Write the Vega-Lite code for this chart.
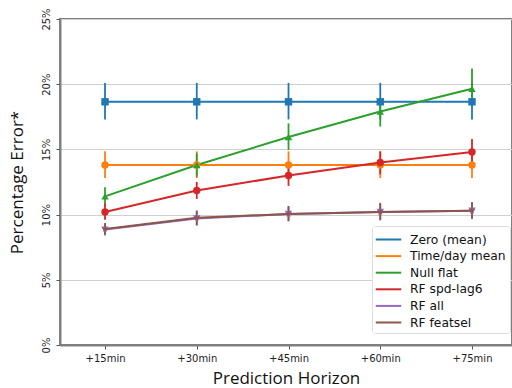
{
  "$schema": "https://vega.github.io/schema/vega-lite/v6.json",
  "autosize": {"type": "none"},
  "padding": {"left": 60, "top": 19, "right": 0, "bottom": 43},
  "width": 452,
  "height": 326,
  "background": "white",
  "config": {
    "view": {"stroke": "#808080", "strokeWidth": 2},
    "axis": {"domainColor": "#808080", "domainWidth": 2, "tickColor": "#555555", "gridColor": "#d0d0d0", "gridWidth": 1.2, "labelFont": "DejaVu Sans", "labelFontSize": 10, "labelColor": "#222222", "titleFont": "Open Sans", "titleFontWeight": "normal", "titleFontSize": 17, "titleColor": "#111111"}
  },
  "data": {"values": [
    {"series": "Zero (mean)", "h": 15, "v": 18.65, "lo": 17.3, "hi": 20.1},
    {"series": "Zero (mean)", "h": 30, "v": 18.65, "lo": 17.3, "hi": 20.1},
    {"series": "Zero (mean)", "h": 45, "v": 18.65, "lo": 17.3, "hi": 20.1},
    {"series": "Zero (mean)", "h": 60, "v": 18.65, "lo": 17.3, "hi": 20.1},
    {"series": "Zero (mean)", "h": 75, "v": 18.65, "lo": 17.3, "hi": 20.1},
    {"series": "Time/day mean", "h": 15, "v": 13.8, "lo": 12.8, "hi": 14.85},
    {"series": "Time/day mean", "h": 30, "v": 13.8, "lo": 12.8, "hi": 14.85},
    {"series": "Time/day mean", "h": 45, "v": 13.8, "lo": 12.8, "hi": 14.85},
    {"series": "Time/day mean", "h": 60, "v": 13.8, "lo": 12.8, "hi": 14.85},
    {"series": "Time/day mean", "h": 75, "v": 13.8, "lo": 12.8, "hi": 14.85},
    {"series": "Null flat", "h": 15, "v": 11.4, "lo": 10.65, "hi": 12.1},
    {"series": "Null flat", "h": 30, "v": 13.8, "lo": 12.9, "hi": 14.7},
    {"series": "Null flat", "h": 45, "v": 15.95, "lo": 14.95, "hi": 17.0},
    {"series": "Null flat", "h": 60, "v": 17.9, "lo": 16.75, "hi": 18.9},
    {"series": "Null flat", "h": 75, "v": 19.65, "lo": 18.4, "hi": 21.2},
    {"series": "RF spd-lag6", "h": 15, "v": 10.2, "lo": 9.6, "hi": 10.85},
    {"series": "RF spd-lag6", "h": 30, "v": 11.85, "lo": 11.2, "hi": 12.5},
    {"series": "RF spd-lag6", "h": 45, "v": 13.0, "lo": 12.2, "hi": 13.7},
    {"series": "RF spd-lag6", "h": 60, "v": 14.0, "lo": 13.1, "hi": 14.85},
    {"series": "RF spd-lag6", "h": 75, "v": 14.8, "lo": 13.8, "hi": 15.8},
    {"series": "RF all", "h": 15, "v": 8.85, "lo": 8.4, "hi": 9.3},
    {"series": "RF all", "h": 30, "v": 9.7, "lo": 9.15, "hi": 10.3},
    {"series": "RF all", "h": 45, "v": 10.05, "lo": 9.5, "hi": 10.65},
    {"series": "RF all", "h": 60, "v": 10.2, "lo": 9.55, "hi": 10.85},
    {"series": "RF all", "h": 75, "v": 10.3, "lo": 9.65, "hi": 10.95},
    {"series": "RF featsel", "h": 15, "v": 8.9, "lo": 8.45, "hi": 9.35},
    {"series": "RF featsel", "h": 30, "v": 9.75, "lo": 9.2, "hi": 10.3},
    {"series": "RF featsel", "h": 45, "v": 10.05, "lo": 9.5, "hi": 10.65},
    {"series": "RF featsel", "h": 60, "v": 10.2, "lo": 9.6, "hi": 10.9},
    {"series": "RF featsel", "h": 75, "v": 10.3, "lo": 9.7, "hi": 10.95}
  ]},
  "encoding": {
    "x": {"field": "h", "type": "quantitative", "scale": {"domain": [7.64, 81.54], "nice": false, "zero": false},
      "axis": {"values": [15, 30, 45, 60, 75], "labelExpr": "'+' + datum.value + 'min'", "grid": false, "title": "Prediction Horizon", "titlePadding": 7, "tickSize": 4, "labelPadding": 4}}
  },
  "layer": [
    {
      "mark": {"type": "rule", "strokeWidth": 1.8},
      "encoding": {
        "y": {"field": "lo", "type": "quantitative", "scale": {"domain": [0, 25], "nice": false},
          "axis": {"values": [0, 5, 10, 15, 20, 25], "labelExpr": "datum.value + '%'", "labelAngle": -90, "labelAlign": "center", "labelBaseline": "bottom", "labelPadding": 5, "tickSize": 4, "title": "Percentage Error*", "titlePadding": 15, "gridColor": "#d0d0d0"}},
        "y2": {"field": "hi"},
        "color": {"field": "series", "type": "nominal",
          "scale": {"domain": ["Zero (mean)", "Time/day mean", "Null flat", "RF spd-lag6", "RF all", "RF featsel"], "range": ["#1f77b4", "#ff7f0e", "#2ca02c", "#d62728", "#9467bd", "#8c564b"]},
          "legend": {"title": null, "orient": "none", "legendX": 312, "legendY": 207, "symbolType": "M-1.5,0L1.5,0", "symbolSize": 289, "symbolStrokeWidth": 2, "labelFont": "DejaVu Sans", "labelFontSize": 12.3, "labelColor": "#111111", "rowPadding": 0.6, "padding": 4, "strokeColor": "#dddddd", "fillColor": "white", "cornerRadius": 3, "labelOffset": 12, "symbolOffset": 3}}
      }
    },
    {
      "mark": {"type": "line", "strokeWidth": 2},
      "encoding": {
        "y": {"field": "v", "type": "quantitative"},
        "color": {"field": "series", "type": "nominal", "legend": null}
      }
    },
    {
      "mark": {"type": "point", "filled": true, "opacity": 1, "size": 55},
      "encoding": {
        "y": {"field": "v", "type": "quantitative"},
        "color": {"field": "series", "type": "nominal", "legend": null},
        "shape": {"field": "series", "type": "nominal", "legend": null,
          "scale": {"domain": ["Zero (mean)", "Time/day mean", "Null flat", "RF spd-lag6", "RF all", "RF featsel"],
            "range": ["square", "circle", "triangle-up", "circle", "triangle-down", "M0,-1L0.2245,-0.309L0.951,-0.309L0.363,0.118L0.588,0.809L0,0.382L-0.588,0.809L-0.363,0.118L-0.951,-0.309L-0.2245,-0.309Z"]}}
      }
    }
  ],
  "resolve": {"legend": {"shape": "independent", "color": "independent"}}
}
